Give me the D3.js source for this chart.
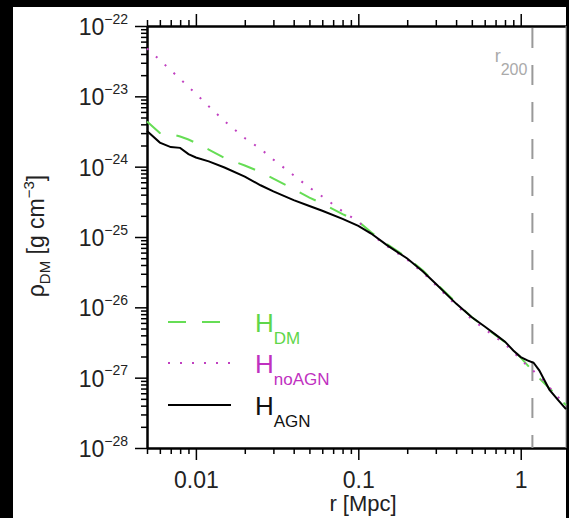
<!DOCTYPE html>
<html>
<head>
<meta charset="utf-8">
<script src="https://cdn.jsdelivr.net/npm/d3@7"></script>
<style>
  body { margin: 0; background: #000; }
  svg { display: block; font-family: "Liberation Sans", Arial, sans-serif; }
</style>
</head>
<body>
<div id="chart"></div>
<script>
// radius grid [Mpc] and densities [g cm^-3]
const rValues = [0.005, 0.006, 0.007, 0.008, 0.009, 0.01, 0.012, 0.015, 0.02, 0.025, 0.03, 0.04, 0.05, 0.06, 0.08,
    0.1, 0.12, 0.15, 0.2, 0.25, 0.3, 0.4, 0.5, 0.6, 0.7, 0.8, 0.9, 1.0, 1.1, 1.2, 1.3, 1.5, 1.7, 1.9];

const rhoAGN = [3.21e-24, 2.20e-24, 1.90e-24, 1.85e-24, 1.51e-24, 1.35e-24, 1.19e-24, 9.74e-25, 7.21e-25, 5.44e-25,
    4.45e-25, 3.35e-25, 2.76e-25, 2.36e-25, 1.81e-25, 1.44e-25, 1.12e-25, 7.67e-26, 4.94e-26, 3.24e-26, 2.17e-26,
    1.13e-26, 7.21e-27, 5.33e-27, 4.09e-27, 3.25e-27, 2.44e-27, 1.96e-27, 1.76e-27, 1.63e-27, 1.27e-27, 6.77e-28,
    4.79e-28, 3.56e-28];

const rhoDM = [4.38e-24, 3.01e-24, 2.91e-24, 2.68e-24, 2.43e-24, 2.17e-24, 1.75e-24, 1.33e-24, 1.04e-24, 8.38e-25,
    6.75e-25, 4.80e-25, 3.63e-25, 2.99e-25, 2.12e-25, 1.66e-25, 1.17e-25, 7.93e-26, 5.09e-26, 3.33e-26, 2.21e-26,
    1.17e-26, 7.26e-27, 5.23e-27, 4.02e-27, 3.20e-27, 2.46e-27, 1.93e-27, 1.51e-27, 1.20e-27, 9.84e-28, 7.09e-28,
    5.28e-28, 4.06e-28];

const rhoNoAGN = [4.79e-23, 3.28e-23, 2.35e-23, 1.77e-23, 1.36e-23, 1.09e-23, 7.21e-24, 4.45e-24, 2.55e-24, 1.79e-24,
    1.26e-24, 7.54e-25, 5.04e-25, 3.77e-25, 2.31e-25, 1.66e-25, 1.10e-25, 7.42e-26, 4.77e-26, 3.12e-26, 2.07e-26,
    1.07e-26, 6.79e-27, 4.90e-27, 3.77e-27, 3.00e-27, 2.31e-27, 1.83e-27, 1.46e-27, 1.24e-27, 1.05e-27, 7.32e-28,
    5.28e-28, 3.93e-28];

const r200 = 1.18;
const xTickLabels = ["0.01", "0.1", "1"];
const yTickExps = [-22, -23, -24, -25, -26, -27, -28];

const svgWidth = 569, svgHeight = 518;
const margin = { top: 26, right: 3, bottom: 70, left: 147 };

const svg = d3.select("#chart")
    .append("svg")
    .attr("width", svgWidth)
    .attr("height", svgHeight);

// white page behind the plot
svg.append("rect")
    .attr("x", 13).attr("y", 7)
    .attr("width", svgWidth - margin.right - 13)
    .attr("height", svgHeight - 7)
    .attr("fill", "#fff");

const x = d3.scaleLog()
    .domain([0.005, 1.9])
    .range([margin.left, svgWidth - margin.right]);

const y = d3.scaleLog()
    .domain([1e-28, 1e-22])
    .range([svgHeight - margin.bottom, margin.top]);

const isMajor = v => Math.abs(Math.log10(v) - Math.round(Math.log10(v))) < 1e-6;
const xMinor = x.ticks().filter(v => !isMajor(v));
const yMinor = y.ticks().filter(v => !isMajor(v));
const xMajor = xTickLabels.map(Number);
const yMajor = yTickExps.map(e => Math.pow(10, e));

function styleAxis(g) {
    g.select(".domain").attr("stroke", "#000").attr("stroke-width", 2);
    g.selectAll(".tick line").attr("stroke", "#000").attr("stroke-width", 1.5);
}

// bottom axis
const bottomY = svgHeight - margin.bottom;
svg.append("g")
    .attr("transform", `translate(0, ${bottomY})`)
    .call(d3.axisBottom(x).tickValues(xMinor).tickSize(6).tickSizeOuter(0).tickFormat(""))
    .call(styleAxis);
const xAx = svg.append("g")
    .attr("transform", `translate(0, ${bottomY})`)
    .call(d3.axisBottom(x).tickValues(xMajor).tickSize(12).tickSizeOuter(0)
        .tickFormat((d, i) => xTickLabels[i]))
    .call(styleAxis);
xAx.selectAll(".tick text")
    .attr("y", 40).attr("dy", null)
    .attr("font-size", 23).attr("fill", "#222")
    .attr("font-family", "Liberation Sans, Arial, sans-serif");

// top axis
svg.append("g")
    .attr("transform", `translate(0, ${margin.top})`)
    .call(d3.axisTop(x).tickValues(xMinor).tickSize(6).tickSizeOuter(0).tickFormat(""))
    .call(styleAxis);
svg.append("g")
    .attr("transform", `translate(0, ${margin.top})`)
    .call(d3.axisTop(x).tickValues(xMajor).tickSize(12).tickSizeOuter(0).tickFormat(""))
    .call(styleAxis);

// left axis
svg.append("g")
    .attr("transform", `translate(${margin.left}, 0)`)
    .call(d3.axisLeft(y).tickValues(yMinor).tickSize(6).tickSizeOuter(0).tickFormat(""))
    .call(styleAxis);
const yAx = svg.append("g")
    .attr("transform", `translate(${margin.left}, 0)`)
    .call(d3.axisLeft(y).tickValues(yMajor).tickSize(12).tickSizeOuter(0).tickFormat(""))
    .call(styleAxis);
yAx.selectAll(".tick text").remove();
yAx.selectAll(".tick").each(function (d, i) {
    const t = d3.select(this).append("text")
        .attr("x", -19).attr("y", 8.5)
        .attr("text-anchor", "end")
        .attr("fill", "#222")
        .attr("font-family", "Liberation Sans, Arial, sans-serif");
    t.append("tspan").attr("font-size", 23).text("10");
    t.append("tspan").attr("font-size", 14).attr("dy", -11.2).text("\u2212" + Math.abs(yTickExps[i]));
});

// right border
svg.append("line")
    .attr("x1", x(1.9)).attr("x2", x(1.9))
    .attr("y1", margin.top).attr("y2", bottomY)
    .attr("stroke", "#999").attr("stroke-width", 1);

// r200 marker
svg.append("line")
    .attr("x1", x(r200)).attr("x2", x(r200))
    .attr("y1", margin.top + 2).attr("y2", bottomY)
    .attr("stroke", "#999").attr("stroke-width", 2)
    .attr("stroke-dasharray", "20,17");
const r200Label = svg.append("text")
    .attr("x", x(r200) - 5).attr("y", 62)
    .attr("text-anchor", "end")
    .attr("fill", "#aaa");
r200Label.append("tspan").attr("font-size", 18).text("r");
r200Label.append("tspan").attr("font-size", 16).attr("dy", 13).text("200");

// profiles
const series = [
    { name: "DM", values: rhoDM, color: "#66dd55", dash: "18,16", width: 2 },
    { name: "noAGN", values: rhoNoAGN, color: "#c040c0", dash: "2,10", width: 2 },
    { name: "AGN", values: rhoAGN, color: "#000", dash: null, width: 2 }
];

const line = d3.line()
    .x(d => x(d[0]))
    .y(d => y(d[1]));

svg.selectAll("path.profile")
    .data(series)
    .enter().append("path")
    .attr("class", "profile")
    .attr("fill", "none")
    .attr("stroke", d => d.color)
    .attr("stroke-width", d => d.width)
    .attr("stroke-dasharray", d => d.dash)
    .attr("d", d => line(rValues.map((r, i) => [r, d.values[i]])));

// legend
const legendRows = [
    { name: "DM", color: "#66dd55", text: "#5fd64a", dash: "18,16", y: 322 },
    { name: "noAGN", color: "#c040c0", text: "#c030c0", dash: "2,10", y: 363 },
    { name: "AGN", color: "#000", text: "#111", dash: null, y: 405 }
];
const legend = svg.append("g")
    .selectAll("g")
    .data(legendRows)
    .enter().append("g");

legend.append("line")
    .attr("x1", 168).attr("x2", 231)
    .attr("y1", d => d.y).attr("y2", d => d.y)
    .attr("stroke", d => d.color)
    .attr("stroke-width", 2)
    .attr("stroke-dasharray", d => d.dash);

const lt = legend.append("text")
    .attr("x", 255)
    .attr("y", d => d.y + 10)
    .attr("fill", d => d.text);
lt.append("tspan").attr("font-size", 26).text("H");
lt.append("tspan").attr("font-size", 17).attr("dy", 11.5).text(d => d.name);

// axis titles
svg.append("text")
    .attr("x", 363).attr("y", 511)
    .attr("text-anchor", "middle")
    .attr("font-size", 22)
    .attr("fill", "#222")
    .text("r [Mpc]");

const yt = svg.append("text")
    .attr("transform", "translate(44, 236) rotate(-90)")
    .attr("text-anchor", "middle")
    .attr("font-size", 23)
    .attr("fill", "#222");
yt.append("tspan").text("\u03c1");
yt.append("tspan").attr("font-size", 15).attr("dy", 6).text("DM");
yt.append("tspan").attr("dy", -6).text(" [g cm");
yt.append("tspan").attr("font-size", 15).attr("dy", -10).text("\u22123");
yt.append("tspan").attr("dy", 10).text("]");
</script>
</body>
</html>
